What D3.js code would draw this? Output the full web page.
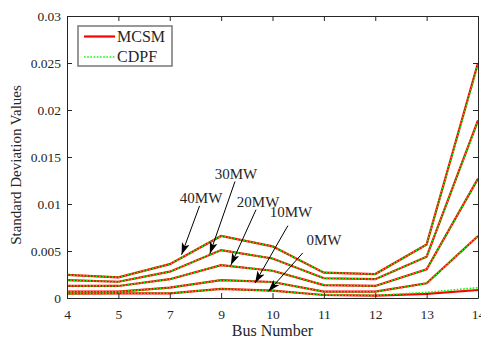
<!DOCTYPE html>
<html>
<head>
<meta charset="utf-8">
<script src="https://cdn.jsdelivr.net/npm/d3@7"></script>
<style>
  body { margin: 0; background: #fff; }
  text { font-family: "Liberation Serif", "Times New Roman", serif; fill: #262626; }
</style>
</head>
<body>
<svg id="chart" width="481" height="342"></svg>
<script>
// bus numbers on the x axis (equally spaced categories)
var buses = ["4", "5", "7", "9", "10", "11", "12", "13", "14"];
var yTicks = [0, 0.005, 0.01, 0.015, 0.02, 0.025, 0.03];
var seriesNames = ["0MW", "10MW", "20MW", "30MW", "40MW"];

// MCSM results
var mcsm0 = [0.00046, 0.0005, 0.0005, 0.00096, 0.00078, 0.00032, 0.00025, 0.00043, 0.00085];
var mcsm10 = [0.00067, 0.00067, 0.0011, 0.0019, 0.0017, 0.00067, 0.00067, 0.00156, 0.0066];
var mcsm20 = [0.0013, 0.00128, 0.002, 0.0035, 0.0029, 0.00138, 0.00128, 0.00305, 0.0127];
var mcsm30 = [0.0019, 0.00173, 0.0028, 0.0051, 0.0042, 0.0021, 0.002, 0.0044, 0.0189];
var mcsm40 = [0.00245, 0.0022, 0.0036, 0.0066, 0.0055, 0.0027, 0.00255, 0.0057, 0.025];

// CDPF results
var cdpf0 = [0.00046, 0.0005, 0.0005, 0.00096, 0.00078, 0.00032, 0.00027, 0.0006, 0.0011];
var cdpf10 = [0.00067, 0.00067, 0.0011, 0.0019, 0.0017, 0.00067, 0.00067, 0.00156, 0.0066];
var cdpf20 = [0.0013, 0.00128, 0.002, 0.0035, 0.0029, 0.00138, 0.00128, 0.00305, 0.0127];
var cdpf30 = [0.0019, 0.00173, 0.0028, 0.0051, 0.0042, 0.0021, 0.002, 0.0044, 0.0188];
var cdpf40 = [0.00245, 0.0022, 0.0036, 0.0066, 0.0055, 0.0027, 0.00255, 0.0057, 0.0248];

// annotation arrows: [label, textIdx, textVal, tailIdx, tailVal, tipIdx, tipVal] (category index / value units)
var notes = [
  ["40MW", 2.61, 0.0106, 2.58, 0.0098, 2.23, 0.0046],
  ["30MW", 3.29, 0.0132, 3.27, 0.0124, 2.78, 0.0047],
  ["20MW", 3.72, 0.0102, 3.68, 0.0094, 3.19, 0.0035],
  ["10MW", 4.36, 0.0092, 4.30, 0.0077, 3.66, 0.0016],
  ["0MW", 5.0, 0.0062, 4.59, 0.0048, 3.92, 0.0007]
];

var mcsm = [mcsm0, mcsm10, mcsm20, mcsm30, mcsm40];
var cdpf = [cdpf0, cdpf10, cdpf20, cdpf30, cdpf40];

var svg = d3.select("#chart");
var pLeft = 67, pRight = 478, pTop = 16, pBottom = 298;

var x = d3.scalePoint().domain(buses).range([pLeft, pRight]);
var xi = d3.scaleLinear().domain([0, buses.length - 1]).range([pLeft, pRight]);
var y = d3.scaleLinear().domain([0, 0.03]).range([pBottom, pTop]);

var defs = svg.append("defs");
defs.append("clipPath").attr("id", "clip")
  .append("rect").attr("x", pLeft).attr("y", pTop - 2).attr("width", pRight - pLeft + 4).attr("height", pBottom - pTop + 4);
defs.append("marker").attr("id", "arrow")
  .attr("viewBox", "0 0 12 8").attr("refX", 12).attr("refY", 4)
  .attr("markerWidth", 12).attr("markerHeight", 8).attr("markerUnits", "userSpaceOnUse")
  .attr("orient", "auto")
  .append("path").attr("d", "M0,0 L12,4 L0,8 L3,4 Z").attr("fill", "#000");

var line = d3.line().x(function(d, i) { return x(buses[i]); }).y(function(d) { return y(d); });

var plot = svg.append("g").attr("clip-path", "url(#clip)");
mcsm.forEach(function(s) {
  plot.append("path").attr("d", line(s)).attr("fill", "none")
    .attr("stroke", "#ff0000").attr("stroke-width", 2.2);
});
cdpf.forEach(function(s) {
  plot.append("path").attr("d", line(s)).attr("fill", "none")
    .attr("stroke", "#00ff00").attr("stroke-width", 1.6).attr("stroke-dasharray", "1.6,1.6");
});

// axes: box with inward ticks on all sides
var axisColor = "#262626";
var xAxis = d3.axisBottom(x).tickSizeInner(-5).tickSizeOuter(0).tickPadding(11);
var yAxis = d3.axisLeft(y).tickValues(yTicks).tickFormat(d3.format("~g")).tickSizeInner(-5).tickSizeOuter(0).tickPadding(6);

var gx = svg.append("g").attr("transform", "translate(0," + pBottom + ")").call(xAxis);
var gy = svg.append("g").attr("transform", "translate(" + pLeft + ",0)").call(yAxis);
var gxt = svg.append("g").attr("transform", "translate(0," + pTop + ")")
  .call(d3.axisTop(x).tickSizeInner(-5).tickSizeOuter(0).tickFormat(""));
var gyr = svg.append("g").attr("transform", "translate(" + pRight + ",0)")
  .call(d3.axisRight(y).tickValues(yTicks).tickSizeInner(-5).tickSizeOuter(0).tickFormat(""));

[gx, gy, gxt, gyr].forEach(function(g) {
  g.selectAll("path").attr("stroke", axisColor).attr("stroke-width", 1);
  g.selectAll("line").attr("stroke", axisColor);
  g.selectAll("text").style("font-size", "13.5px").attr("fill", axisColor)
    .style("font-family", "'Liberation Serif', serif");
});

svg.append("text").attr("x", (pLeft + pRight) / 2).attr("y", 336)
  .attr("text-anchor", "middle").style("font-size", "16px").text("Bus Number");
svg.append("text").attr("transform", "translate(21," + ((pTop + pBottom) / 2 + 8) + ") rotate(-90)")
  .attr("text-anchor", "middle").style("font-size", "15px").text("Standard Deviation Values");

// annotations
notes.forEach(function(n) {
  svg.append("line")
    .attr("x1", xi(n[3])).attr("y1", y(n[4]))
    .attr("x2", xi(n[5])).attr("y2", y(n[6]))
    .attr("stroke", "#000").attr("stroke-width", 1)
    .attr("marker-end", "url(#arrow)");
  svg.append("text").attr("x", xi(n[1])).attr("y", y(n[2]) + 5)
    .attr("text-anchor", "middle").style("font-size", "15px").attr("fill", "#000").text(n[0]);
});

// legend
var lg = svg.append("g").attr("transform", "translate(78,26)");
lg.append("rect").attr("width", 94).attr("height", 40)
  .attr("fill", "#fff").attr("stroke", "#777").attr("stroke-width", 1.5);
lg.append("line").attr("x1", 6).attr("x2", 37).attr("y1", 10.5).attr("y2", 10.5)
  .attr("stroke", "#ff0000").attr("stroke-width", 2.2);
lg.append("line").attr("x1", 6).attr("x2", 37).attr("y1", 31).attr("y2", 31)
  .attr("stroke", "#00ff00").attr("stroke-width", 1.6).attr("stroke-dasharray", "1.6,1.6");
lg.append("text").attr("x", 39).attr("y", 16).style("font-size", "16px").attr("fill", "#000").text("MCSM");
lg.append("text").attr("x", 39).attr("y", 36).style("font-size", "16px").attr("fill", "#000").text("CDPF");
</script>
</body>
</html>
